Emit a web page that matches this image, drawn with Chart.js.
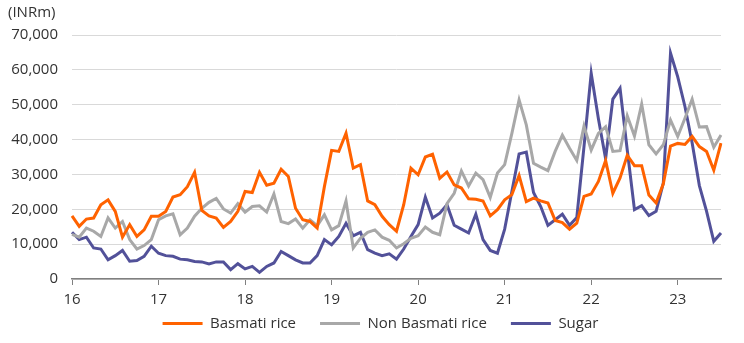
<!DOCTYPE html>
<html>
<head>
<meta charset="utf-8">
<script src="https://cdn.jsdelivr.net/npm/chart.js@4/dist/chart.umd.min.js"></script>
<style>
  html, body { margin: 0; padding: 0; background: #ffffff; }
  #c { display: block; }
</style>
</head>
<body>
<canvas id="c" width="744" height="343"></canvas>
<script>
// Years shown on the x axis (one tick per January)
const years = ['16', '17', '18', '19', '20', '21', '22', '23'];
const months = ['01','02','03','04','05','06','07','08','09','10','11','12'];
const monthsInLastYear = 7; // Jan..Jul 2023

// Categories: monthly, Jan 2016 .. Jul 2023
const categories = [];
years.forEach((y, yi) => {
  const n = (yi === years.length - 1) ? monthsInLastYear : 12;
  for (let m = 0; m < n; m++) categories.push('20' + y + '-' + months[m]);
});

// Series values (INRm)
const basmati = [
  18100, 15100, 17200, 17500, 21300, 22700, 19400, 12000, 15600, 12200, 14100, 18000,
  18000, 19400, 23500, 24200, 26500, 30600, 19700, 18100, 17500, 14800, 16500, 19400,
  25100, 24800, 30600, 26900, 27500, 31500, 29400, 20300, 17000, 16500, 14600, 26500,
  36900, 36600, 41800, 31800, 32800, 22400, 21300, 18000, 15600, 13700, 21300, 31800,
  29900, 35000, 35800, 28900, 30700, 27000, 26100, 23000, 22900, 22400, 18100, 19900,
  22700, 24200, 29700, 22200, 23200, 22400, 21800, 16800, 16200, 14300, 16000, 23700,
  24400, 28000, 34000, 24600, 29000, 35500, 32500, 32500, 24100, 21800, 27300, 38100,
  38900, 38600, 40900, 38000, 36600, 31200, 39000
];
const nonBasmati = [
  12800, 12000, 14600, 13700, 12200, 17500, 14600, 16500, 11300, 8600, 9600, 11300,
  17000, 18100, 18700, 12700, 14600, 18000, 20300, 22000, 23100, 20100, 18900, 21600,
  19200, 20800, 21000, 19200, 24400, 16500, 15900, 17200, 14600, 17000, 15300, 18400,
  14100, 15300, 22400, 8900, 11700, 13400, 14100, 12000, 11100, 8900, 10100, 11700,
  12400, 14900, 13400, 12700, 21600, 24600, 31000, 26700, 30400, 28500, 23400, 30400,
  32800, 41800, 51400, 44200, 33200, 32100, 31100, 36600, 41300, 37500, 34000, 43900,
  37000, 41800, 43700, 36600, 36800, 46800, 41000, 50200, 38500, 35900, 38500, 45600,
  40900, 46100, 51600, 43600, 43700, 37800, 41300
];
const sugar = [
  13400, 11300, 12000, 8900, 8600, 5500, 6700, 8200, 5100, 5300, 6500, 9400,
  7400, 6700, 6500, 5700, 5500, 5000, 4900, 4300, 4900, 4900, 2700, 4400,
  2900, 3600, 1900, 3600, 4600, 7900, 6700, 5500, 4600, 4600, 6700, 11300,
  9800, 12200, 16000, 12400, 13400, 8400, 7400, 6700, 7200, 5700, 8600, 12200,
  15600, 23500, 17500, 18900, 21300, 15400, 14300, 13200, 18600, 11300, 8200, 7400,
  14300, 25100, 35900, 36400, 24800, 20800, 15400, 17000, 18600, 15400, 17600, 38000,
  59000, 46000, 34500, 51600, 54700, 37000, 19900, 21000, 18200, 19400, 27500, 64800,
  58000, 49500, 39000, 26800, 19400, 10800, 13200
];

const seriesNames = ['Basmati rice', 'Non Basmati rice', 'Sugar'];
const seriesColors = ['#FF6200', '#A8A8A8', '#525199'];
const seriesValues = [basmati, nonBasmati, sugar];

const FONT = "'Open Sans', 'DejaVu Sans', sans-serif";
Chart.defaults.font.family = FONT;
Chart.defaults.font.size = 15;
Chart.defaults.color = '#333333';

// Legend: keep wide horizontal spacing but a compact box, placed as in the reference
const legendTweak = {
  id: 'legendTweak',
  beforeLayout(chart) {
    const lg = chart.legend;
    if (lg && !lg.__patched) {
      const origFit = lg.fit;
      lg.fit = function () { origFit.call(this); this.height = 34; };
      lg.__patched = true;
    }
  },
  afterLayout(chart) {
    const lg = chart.legend;
    if (lg) { lg.left += 16; lg.right += 16; lg.top -= 17; }
  }
};

new Chart(document.getElementById('c'), {
  type: 'line',
  data: {
    labels: categories,
    datasets: seriesValues.map((vals, i) => ({
      label: seriesNames[i],
      data: vals,
      borderColor: seriesColors[i],
      backgroundColor: seriesColors[i],
      borderWidth: 3,
      pointRadius: 0,
      pointHoverRadius: 0,
      tension: 0,
      fill: false
    }))
  },
  plugins: [legendTweak],
  options: {
    responsive: false,
    animation: false,
    layout: { padding: { left: 8, right: 23, top: 0, bottom: 0 } },
    plugins: {
      tooltip: { enabled: false },
      title: {
        display: true,
        text: '(INRm)',
        align: 'start',
        font: { size: 15, weight: 'normal' },
        color: '#333333',
        padding: { top: 4, bottom: 13 }
      },
      legend: {
        display: true,
        position: 'bottom',
        labels: {
          boxWidth: 40,
          boxHeight: 3,
          padding: 24,
          font: { size: 15 },
          color: '#333333',
          generateLabels(chart) {
            const items = Chart.defaults.plugins.legend.labels.generateLabels(chart);
            items.forEach(it => { it.lineWidth = 0; it.fillStyle = it.strokeStyle; });
            return items;
          }
        }
      }
    },
    scales: {
      x: {
        type: 'category',
        offset: false,
        afterFit(scale) { scale.height = 30; },
        grid: {
          display: true,
          drawOnChartArea: false,
          drawTicks: true,
          tickLength: 6,
          color: '#808080'
        },
        border: { display: true, color: '#808080', width: 1.5 },
        ticks: {
          autoSkip: false,
          maxRotation: 0,
          padding: 6,
          color: '#333333',
          font: { size: 15 },
          callback(value, index) {
            return index % 12 === 0 ? years[index / 12] : null;
          }
        }
      },
      y: {
        min: 0,
        max: 70000,
        afterFit(scale) { scale.width = 64; },
        grid: { color: '#d9d9d9', drawTicks: false, lineWidth: 1 },
        border: { display: false },
        ticks: {
          stepSize: 10000,
          padding: 14,
          color: '#333333',
          font: { size: 15 },
          callback(v) { return Number(v).toLocaleString('en-US'); }
        }
      }
    }
  }
});
</script>
</body>
</html>
